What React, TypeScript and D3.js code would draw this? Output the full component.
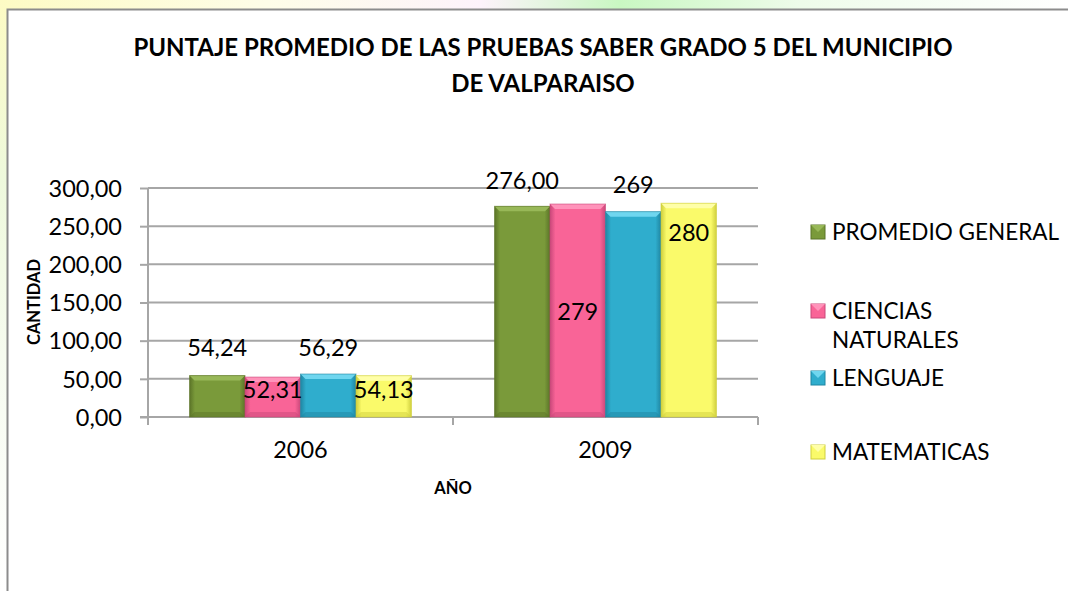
import React, { useEffect, useRef } from 'react';
import * as d3 from 'd3';

// chart values
const years = ['2006', '2009'];
const series = ['PROMEDIO GENERAL', 'CIENCIAS NATURALES', 'LENGUAJE', 'MATEMATICAS'];
const values2006 = [54.24, 52.31, 56.29, 54.13];
const values2009 = [276, 279, 269, 280];
const labels2006 = ['54,24', '52,31', '56,29', '54,13'];
const labels2009 = ['276,00', '279', '269', '280'];
const yTicks = [0, 50, 100, 150, 200, 250, 300];

// styling
const colors = ['#7a9a3a', '#f96497', '#2fadcd', '#fafa6a'];
const darks = ['#5b7428', '#c9487a', '#1f86a2', '#cfcf3e'];
const lights = ['#98b858', '#ff93ba', '#6fd6ef', '#ffffa8'];
// vertical shift of each data label from the top of its bar (pixels)
const labelShift2006 = [-28, 13, -26, 14];
const labelShift2009 = [-26, 108, -27, 30];
const legendRows = [[232], [311, 340], [378], [452]];
const legendLines = [['PROMEDIO GENERAL'], ['CIENCIAS', 'NATURALES'], ['LENGUAJE'], ['MATEMATICAS']];

const W = 1068;
const H = 591;
const FONT = 'Lato, "Open Sans", sans-serif';

const App = () => {
  const ref = useRef<SVGSVGElement>(null);

  useEffect(() => {
    const svg = d3.select(ref.current);
    svg.selectAll('*').remove();

    const defs = svg.append('defs');
    const bg = defs.append('linearGradient').attr('id', 'bgTop').attr('x1', 0).attr('x2', 1).attr('y1', 0).attr('y2', 0);
    bg.append('stop').attr('offset', '0').attr('stop-color', '#fdfbc4');
    bg.append('stop').attr('offset', '0.25').attr('stop-color', '#fefde8');
    bg.append('stop').attr('offset', '0.45').attr('stop-color', '#fdf3fb');
    bg.append('stop').attr('offset', '0.58').attr('stop-color', '#c9f7c2');
    bg.append('stop').attr('offset', '0.75').attr('stop-color', '#eefcea');
    bg.append('stop').attr('offset', '1').attr('stop-color', '#ffffff');

    const bgL = defs.append('linearGradient').attr('id', 'bgLeft').attr('x1', 0).attr('x2', 0).attr('y1', 0).attr('y2', 1);
    bgL.append('stop').attr('offset', '0').attr('stop-color', '#fdfbc4');
    bgL.append('stop').attr('offset', '0.3').attr('stop-color', '#eef9dc');
    bgL.append('stop').attr('offset', '0.6').attr('stop-color', '#f6fbef');
    bgL.append('stop').attr('offset', '1').attr('stop-color', '#ffffff');

    colors.forEach((c, i) => {
      const g = defs.append('linearGradient').attr('id', 'bar' + i).attr('x1', 0).attr('x2', 1).attr('y1', 0).attr('y2', 0);
      g.append('stop').attr('offset', '0').attr('stop-color', darks[i]);
      g.append('stop').attr('offset', '0.1').attr('stop-color', c);
      g.append('stop').attr('offset', '0.9').attr('stop-color', c);
      g.append('stop').attr('offset', '1').attr('stop-color', darks[i]);
    });

    // page background around the chart box
    svg.append('rect').attr('x', 0).attr('y', 0).attr('width', W).attr('height', 9).attr('fill', 'url(#bgTop)');
    svg.append('rect').attr('x', 0).attr('y', 0).attr('width', 7).attr('height', H).attr('fill', 'url(#bgLeft)');
    svg.append('rect').attr('x', 7).attr('y', 9).attr('width', W - 7).attr('height', H - 9).attr('fill', '#fff');
    svg.append('path').attr('d', `M7.5,${H} V9.5 H${W}`).attr('fill', 'none').attr('stroke', '#8c8c8c').attr('stroke-width', 2);

    // title
    const title = svg.append('text').attr('text-anchor', 'middle').attr('font-family', FONT)
      .attr('font-weight', 700).attr('font-size', 24).attr('fill', '#000');
    title.append('tspan').attr('x', 543).attr('y', 56).text('PUNTAJE PROMEDIO DE LAS PRUEBAS SABER GRADO 5 DEL MUNICIPIO');
    title.append('tspan').attr('x', 543).attr('y', 92).text('DE VALPARAISO');

    const x0 = d3.scaleBand().domain(years).range([148, 758]).paddingInner(0).paddingOuter(0);
    const x1 = d3.scaleBand().domain(series).range([0, x0.bandwidth()]).paddingInner(0).paddingOuter(0.748);
    const y = d3.scaleLinear().domain([0, 300]).range([417, 188]);
    const fmt = (v: number) => d3.format('.2f')(v).replace('.', ',');

    // gridlines
    svg.append('g').selectAll('line').data(yTicks.filter(t => t > 0)).join('line')
      .attr('x1', 148).attr('x2', 758).attr('y1', d => y(d)).attr('y2', d => y(d))
      .attr('stroke', '#a6a6a6').attr('stroke-width', 2);

    // y axis
    const yAxis = svg.append('g').attr('transform', 'translate(148,0)')
      .call(d3.axisLeft(y).tickValues(yTicks).tickFormat(d => fmt(+d)).tickSize(8).tickPadding(18));
    yAxis.select('.domain').attr('stroke', '#a6a6a6').attr('stroke-width', 2).attr('d', `M0,${y(300)}V${y(0) + 8}`);
    yAxis.selectAll('line').attr('stroke', '#a6a6a6').attr('stroke-width', 2);
    yAxis.selectAll('text').attr('font-family', FONT).attr('font-size', 23.5).attr('fill', '#000').attr('dy', '0.35em');

    // x axis
    const xAxis = svg.append('g').attr('transform', `translate(0,${y(0)})`)
      .call(d3.axisBottom(x0).tickSize(0).tickPadding(24));
    xAxis.select('.domain').attr('stroke', '#a6a6a6').attr('stroke-width', 2).attr('d', 'M140,0H758');
    xAxis.selectAll('text').attr('font-family', FONT).attr('font-size', 23.5).attr('fill', '#000');
    xAxis.append('g').selectAll('line').data([453, 758]).join('line')
      .attr('x1', d => d).attr('x2', d => d).attr('y1', 0).attr('y2', 8)
      .attr('stroke', '#a6a6a6').attr('stroke-width', 2);

    // bars
    const rows = [
      { year: years[0], vals: values2006, labels: labels2006, shift: labelShift2006 },
      { year: years[1], vals: values2009, labels: labels2009, shift: labelShift2009 },
    ];
    const bars = svg.append('g');
    rows.forEach(r => {
      r.vals.forEach((v, i) => {
        const bx = (x0(r.year) as number) + (x1(series[i]) as number);
        const bw = x1.bandwidth();
        const top = y(v);
        const bh = y(0) - top;
        const b = 5;
        bars.append('rect').attr('x', bx).attr('y', top).attr('width', bw).attr('height', bh).attr('fill', `url(#bar${i})`);
        // bevel: top light, bottom dark
        bars.append('path').attr('d', `M${bx},${top} H${bx + bw} L${bx + bw - b},${top + b} H${bx + b} Z`).attr('fill', lights[i]);
        bars.append('path').attr('d', `M${bx},${top + bh} H${bx + bw} L${bx + bw - b},${top + bh - b} H${bx + b} Z`).attr('fill', darks[i]).attr('opacity', 0.5);
        bars.append('rect').attr('x', bx).attr('y', top).attr('width', bw).attr('height', bh)
          .attr('fill', 'none').attr('stroke', darks[i]).attr('stroke-width', 1).attr('opacity', 0.6);
      });
    });

    // data labels
    const lab = svg.append('g').attr('font-family', FONT).attr('font-size', 23.5).attr('text-anchor', 'middle').attr('fill', '#000');
    rows.forEach(r => {
      r.vals.forEach((v, i) => {
        const cx = (x0(r.year) as number) + (x1(series[i]) as number) + x1.bandwidth() / 2;
        lab.append('text').attr('x', cx).attr('y', y(v) + r.shift[i]).attr('dy', '0.35em').text(r.labels[i]);
      });
    });

    // axis titles
    svg.append('text').attr('transform', 'translate(40,302) rotate(-90)').attr('text-anchor', 'middle')
      .attr('font-family', FONT).attr('font-weight', 700).attr('font-size', 16.5).text('CANTIDAD');
    svg.append('text').attr('x', 453).attr('y', 494).attr('text-anchor', 'middle')
      .attr('font-family', FONT).attr('font-weight', 700).attr('font-size', 16.5).text('AÑO');

    // legend
    const leg = svg.append('g').attr('font-family', FONT).attr('font-size', 22.5).attr('fill', '#000');
    series.forEach((s, i) => {
      const ry = legendRows[i][0];
      leg.append('rect').attr('x', 811).attr('y', ry - 7).attr('width', 14).attr('height', 14)
        .attr('fill', colors[i]).attr('stroke', darks[i]).attr('stroke-width', 1);
      leg.append('path').attr('d', `M811,${ry - 7} H825 L818,${ry} Z`).attr('fill', lights[i]);
      legendLines[i].forEach((t, k) => {
        leg.append('text').attr('x', 832).attr('y', legendRows[i][k]).attr('dy', '0.35em').text(t);
      });
    });
  }, []);

  return (
    <div style={{ position: 'absolute', left: 0, top: 0 }}>
      <svg ref={ref} width={W} height={H} style={{ display: 'block' }} />
    </div>
  );
};

export default App;
